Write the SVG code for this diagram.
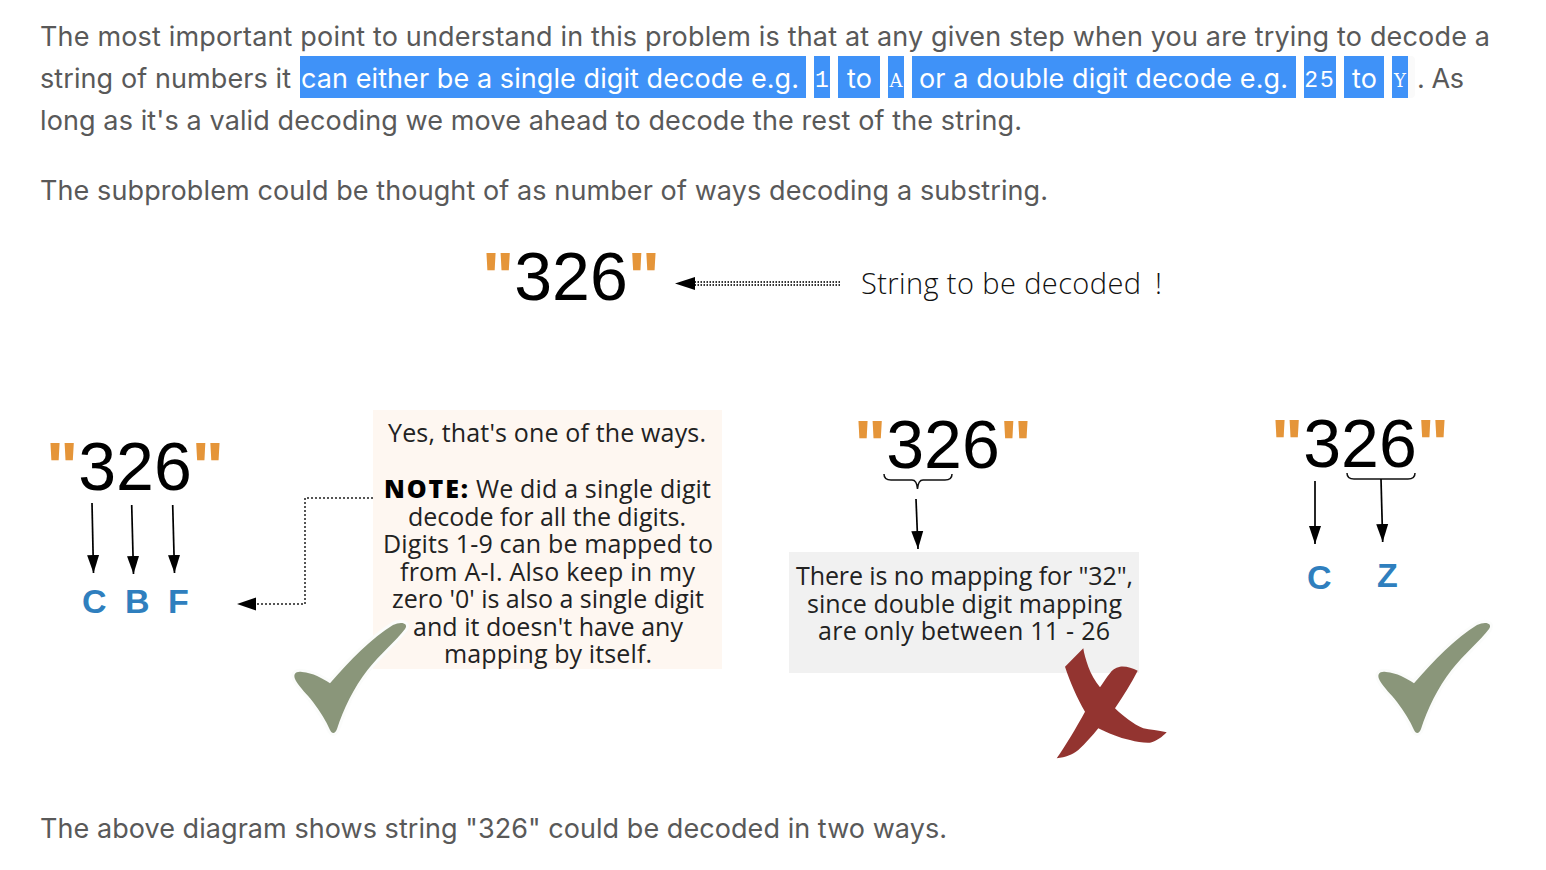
<svg xmlns="http://www.w3.org/2000/svg" width="1546" height="870" viewBox="0 0 1546 870">
<style>
.b{font-family:"Inter","Liberation Sans",sans-serif;font-size:27px;fill:#595959}
.w{fill:#fff}
.c{font-family:"Liberation Mono",monospace;font-size:23px;fill:#fff;text-anchor:middle}
.s{font-family:"DejaVu Serif",serif;font-size:18px}
.hl{fill:#3F92F8}
.n{font-family:"Liberation Sans",Arial,sans-serif;font-size:68px;fill:#000}
.q{font-weight:700;fill:#E59539}
.l{font-family:"Liberation Sans",Arial,sans-serif;font-size:34px;font-weight:700;fill:#2F7FBE}
.h{font-family:"Open Sans","Noto Sans",sans-serif;font-size:25px;fill:#222}
.t{font-size:29px;font-weight:300;fill:#111}
.a{stroke:#000;stroke-width:1.7;fill:none}
.d{stroke:#555;stroke-width:2;stroke-dasharray:2 2;fill:none}
.br{stroke:#111;stroke-width:1.5;fill:none}
.ck{fill:#8A967A;stroke:#FBFCFB;stroke-width:6;stroke-linejoin:round;paint-order:stroke}
</style>
<defs>
<marker id="ah" markerUnits="userSpaceOnUse" markerWidth="20" markerHeight="14" refX="18" refY="6.500" orient="auto"><path d="M0 0.500L18 6.500L0 12.500Z" fill="#000"/></marker>
<path id="tick" d="M330 683.300C350 660 372 638 393 625C401 621 409 623 405 629C396 641 380 654 367.500 670C354 687 343 710 337 729C335 734 332 734 330 730C326 721 320 711 313 702C307 694 300 688 296 681C292 674 296 671 302 672C313 673 322 678 330 683.300Z"/>
</defs>

<g id="para-1">
<text class="b" x="40" y="46" textLength="1450">The most important point to understand in this problem is that at any given step when you are trying to decode a</text>
<text class="b" x="40" y="88" textLength="251">string of numbers it</text>
<rect class="hl" x="300" y="56" width="506" height="42"/>
<text class="b w" x="301" y="88" textLength="498">can either be a single digit decode e.g.</text>
<rect class="hl" x="814" y="56" width="16" height="42"/>
<text class="c" x="822" y="87">1</text>
<rect class="hl" x="838" y="56" width="42" height="42"/>
<text class="b w" x="847" y="88" textLength="25">to</text>
<rect class="hl" x="888" y="56" width="16" height="42"/>
<text class="c s" x="896" y="87">A</text>
<rect class="hl" x="912" y="56" width="384" height="42"/>
<text class="b w" x="919" y="88" textLength="369">or a double digit decode e.g.</text>
<rect class="hl" x="1304" y="56" width="32" height="42"/>
<text class="c" x="1320" y="87" letter-spacing="2">25</text>
<rect class="hl" x="1344" y="56" width="40" height="42"/>
<text class="b w" x="1352" y="88" textLength="25">to</text>
<rect x="1400" y="56" width="15" height="42" rx="4" fill="#FAFAFA"/>
<rect class="hl" x="1392" y="56" width="16" height="42"/>
<text class="c s" x="1400" y="87">Y</text>
<text class="b" x="1417" y="88" textLength="47">. As</text>
<text class="b" x="40" y="130" textLength="982">long as it's a valid decoding we move ahead to decode the rest of the string.</text>
</g>
<text id="para-2" class="b" x="40" y="200" textLength="1008">The subproblem could be thought of as number of ways decoding a substring.</text>

<g id="string-top">
<text class="n" x="482" y="300"><tspan class="q">"</tspan>326<tspan class="q">"</tspan></text>
</g>
<g id="string-label">
<text class="h t" x="861" y="294" textLength="280">String to be decoded</text>
<text class="h t" x="1155" y="294">!</text>
</g>

<g id="way-cbf">
<text class="n" x="46" y="490"><tspan class="q">"</tspan>326<tspan class="q">"</tspan></text>
<text class="l" x="82" y="613">C</text>
<text class="l" x="125" y="613">B</text>
<text class="l" x="168" y="613">F</text>
</g>

<g id="note">
<rect x="373" y="410" width="349" height="259" fill="#FEF7F1"/>
<text class="h" x="388" y="442" textLength="318">Yes, that's one of the ways.</text>
<text class="h" x="384" y="498" style="font-weight:800;fill:#000" textLength="84">NOTE:</text>
<text class="h" x="476" y="498" textLength="235">We did a single digit</text>
<text class="h" x="408" y="526" textLength="278">decode for all the digits.</text>
<text class="h" x="383" y="553" textLength="330">Digits 1-9 can be mapped to</text>
<text class="h" x="400" y="581" textLength="295">from A-I. Also keep in my</text>
<text class="h" x="392" y="608" textLength="312">zero '0' is also a single digit</text>
<text class="h" x="413" y="636" textLength="270">and it doesn't have any</text>
<text class="h" x="444" y="663" textLength="208">mapping by itself.</text>
</g>
<use id="check-1" href="#tick" class="ck"/>

<g id="way-32">
<text class="n" x="854" y="468"><tspan class="q">"</tspan>326<tspan class="q">"</tspan></text>
<rect x="789" y="552" width="350" height="121" fill="#F1F1F1"/>
<text class="h" x="796" y="585" textLength="337">There is no mapping for "32",</text>
<text class="h" x="807" y="613" textLength="315">since double digit mapping</text>
<text class="h" x="818" y="640" textLength="292">are only between 11 - 26</text>
</g>
<path id="cross" fill="#933430" d="M1083.300 648.300L1065 666.700C1070 682 1077 698 1085 711.700C1076 728 1066 745 1056.700 758.300C1066 757 1072 755 1078.300 750C1086 743 1092 736 1098.300 728.300C1108 733 1119 738 1130 740C1137 742 1144 743 1150 742.700C1157 741 1162 737 1166.700 732.300C1158 730 1150 730 1143.300 728.300C1133 724 1123 716 1115 708.300C1123 696 1131 684 1137.700 670.700C1132 668 1126 666 1120 666.700C1115 668 1112 670 1110 673.300C1106 678 1103 683 1100 687.300C1095 681 1091 674 1088.300 666.700C1086 660 1084 654 1083.300 648.300Z"/>

<g id="way-cz">
<text class="n" x="1271" y="467"><tspan class="q">"</tspan>326<tspan class="q">"</tspan></text>
<text class="l" x="1307" y="589">C</text>
<text class="l" x="1377" y="587">Z</text>
</g>
<use id="check-2" href="#tick" class="ck" x="1084"/>

<g id="connectors">
<path d="M840 282H695M840 285H695" stroke="#333" stroke-width="2" stroke-dasharray="1.500 1.500" fill="none"/>
<path d="M695 277L675 283.500L695 290Z" fill="#000"/>
<path class="d" d="M373 498H305V604H256"/>
<path d="M256 597.500L237 604L256 610.500Z" fill="#000"/>
<path class="a" marker-end="url(#ah)" d="M92 503L93.500 573"/>
<path class="a" marker-end="url(#ah)" d="M131.700 505L133.500 574"/>
<path class="a" marker-end="url(#ah)" d="M172.700 505L174.500 573"/>
<path class="br" d="M884 474C884 479 887 480 891 480H912C915 480 917 482 917.500 489C918 482 920 480 923 480H945C949 480 952 479 952 474"/>
<path class="a" marker-end="url(#ah)" d="M916 499L918 549"/>
<path class="br" d="M1347 473C1347 478 1350 479 1354 479H1408C1412 479 1415 478 1415 473"/>
<path class="a" marker-end="url(#ah)" d="M1315 481V544"/>
<path class="a" marker-end="url(#ah)" d="M1381 479L1382.700 542"/>
</g>

<text id="para-3" class="b" x="40" y="838" textLength="907">The above diagram shows string "326" could be decoded in two ways.</text>
</svg>
